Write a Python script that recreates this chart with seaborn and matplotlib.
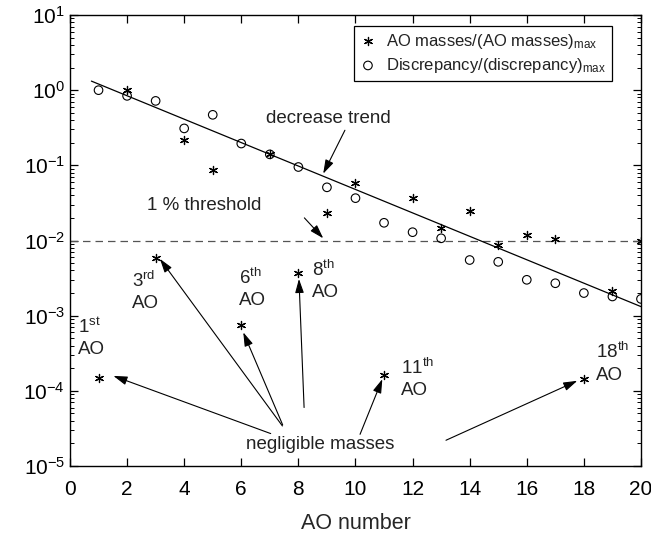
import matplotlib
matplotlib.use("Agg")
import matplotlib.pyplot as plt
import seaborn as sns
import numpy as np
import pandas as pd

# ---- data ----
ao_number = list(range(1, 21))
ao_masses = [1.5e-4, 1.0, 5.9e-3, 0.22, 0.088, 7.5e-4, 0.14, 3.7e-3, 0.0234, 0.0575,
             1.63e-4, 0.037, 0.0146, 0.0249, 0.0086, 0.0117, 0.0105, 1.43e-4, 0.0021, 0.0100]
discrepancy = [1.0, 0.84, 0.72, 0.31, 0.47, 0.195, 0.14, 0.095, 0.051, 0.0366,
               0.0172, 0.0129, 0.0107, 0.0055, 0.0052, 0.0030, 0.0027, 0.0020, 0.0018, 0.00167]
trend_x = [0.75, 20.0]
trend_y = [1.32, 1.32e-3]
threshold = 1e-2
x_ticks = list(range(0, 21, 2))
y_ticks = [1e-5, 1e-4, 1e-3, 1e-2, 1e-1, 1e0, 1e1]

legend_labels = [r"AO masses/(AO masses)$_{\mathrm{max}}$",
                 r"Discrepancy/(discrepancy)$_{\mathrm{max}}$"]

# labels for negligible masses: (text, x, y)
ao_label_text = [r"1$^{\mathrm{st}}$" + "\nAO", r"3$^{\mathrm{rd}}$" + "\nAO",
                 r"6$^{\mathrm{th}}$" + "\nAO", r"8$^{\mathrm{th}}$" + "\nAO",
                 r"11$^{\mathrm{th}}$" + "\nAO", r"18$^{\mathrm{th}}$" + "\nAO"]
ao_label_x = [0.28, 2.16, 5.92, 8.46, 11.59, 18.41]
ao_label_y = [5.1e-4, 2.09e-3, 2.29e-3, 2.93e-3, 1.47e-4, 2.33e-4]

# arrows from "negligible masses" (tail) to points (head)
neg_tail_x = [7.03, 7.44, 7.45, 8.20, 10.16, 13.17]
neg_tail_y = [2.7e-5, 3.41e-5, 3.52e-5, 6.0e-5, 2.64e-5, 2.2e-5]
neg_head_x = [1.52, 3.15, 6.07, 8.02, 10.94, 17.77]
neg_head_y = [1.58e-4, 5.7e-3, 6.0e-4, 3.08e-3, 1.43e-4, 1.36e-4]

# ---- style ----
sns.set_theme(style="ticks")
plt.rcParams["font.family"] = ["Liberation Sans", "DejaVu Sans"]
plt.rcParams["mathtext.fontset"] = "custom"
plt.rcParams["mathtext.rm"] = "Liberation Sans"
plt.rcParams["mathtext.it"] = "Liberation Sans:italic"
plt.rcParams["mathtext.bf"] = "Liberation Sans:bold"
plt.rcParams["axes.edgecolor"] = "black"
plt.rcParams["axes.linewidth"] = 1.0
plt.rcParams["xtick.color"] = "black"
plt.rcParams["ytick.color"] = "black"
plt.rcParams["text.color"] = "#222222"

fig = plt.figure(figsize=(6.51, 5.36), dpi=100)
ax = fig.add_axes([0.1075, 0.1306, 0.8771, 0.8414])

df = pd.DataFrame({"ao": ao_number, "mass": ao_masses, "disc": discrepancy})
asterisk = (6, 2, 0)

sns.scatterplot(data=df, x="ao", y="mass", marker=asterisk, s=34, color="black",
                linewidth=0.9, edgecolor="black", ax=ax, label=legend_labels[0], zorder=3)
sns.scatterplot(data=df, x="ao", y="disc", marker="o", s=38, facecolor="none",
                edgecolor="black", linewidth=0.8, ax=ax, label=legend_labels[1], zorder=3)
sns.lineplot(x=trend_x, y=trend_y, color="black", linewidth=0.9, ax=ax, zorder=2)
ax.axhline(threshold, color="#555555", linestyle=(0, (6, 4)), linewidth=0.9, zorder=1)

ax.set_yscale("log")
ax.set_xlim(0, 20)
ax.set_ylim(1e-5, 1e1)
ax.set_xticks(x_ticks)
ax.set_yticks(y_ticks)
ax.yaxis.set_minor_locator(matplotlib.ticker.LogLocator(base=10, subs=np.arange(2, 10)))
ax.yaxis.set_minor_formatter(matplotlib.ticker.NullFormatter())
ax.tick_params(which="both", direction="in", top=True, right=True, labelsize=15)
ax.tick_params(which="major", length=6, width=0.9)
ax.tick_params(which="minor", length=3, width=0.7)
ax.tick_params(axis="x", pad=10)
ax.set_xlabel("AO number", fontsize=15.5, labelpad=10)
ax.set_ylabel("")

# legend
leg = ax.legend(loc="upper right", bbox_to_anchor=(612 / 651, 1 - 26 / 536),
                bbox_transform=fig.transFigure, fontsize=12, frameon=True,
                fancybox=False, edgecolor="black", framealpha=1,
                handletextpad=0.6, borderpad=0.35, labelspacing=0.3,
                handlelength=1.0, borderaxespad=0)
leg.get_frame().set_linewidth(0.9)

arrow_kw = dict(arrowstyle="-|>,head_length=0.7,head_width=0.22", color="black",
                lw=0.8, shrinkA=0, shrinkB=0)

# annotations
ax.annotate("", xy=(8.87, 0.0775), xytext=(9.63, 0.293), arrowprops=arrow_kw)
ax.text(9.04, 0.42, "decrease trend", fontsize=13.5, ha="center", va="center")
ax.annotate("", xy=(8.87, 0.0107), xytext=(8.21, 0.02), arrowprops=arrow_kw)
ax.text(4.69, 0.0293, "1 % threshold", fontsize=13.5, ha="center", va="center")

for t, x, y in zip(ao_label_text, ao_label_x, ao_label_y):
    ax.text(x, y, t, fontsize=13.5, ha="left", va="center", linespacing=1.35)

for tx, ty, hx, hy in zip(neg_tail_x, neg_tail_y, neg_head_x, neg_head_y):
    ax.annotate("", xy=(hx, hy), xytext=(tx, ty), arrowprops=arrow_kw)
ax.text(8.76, 1.94e-5, "negligible masses", fontsize=13.5, ha="center", va="center")

fig.savefig("out.png", dpi=100)
